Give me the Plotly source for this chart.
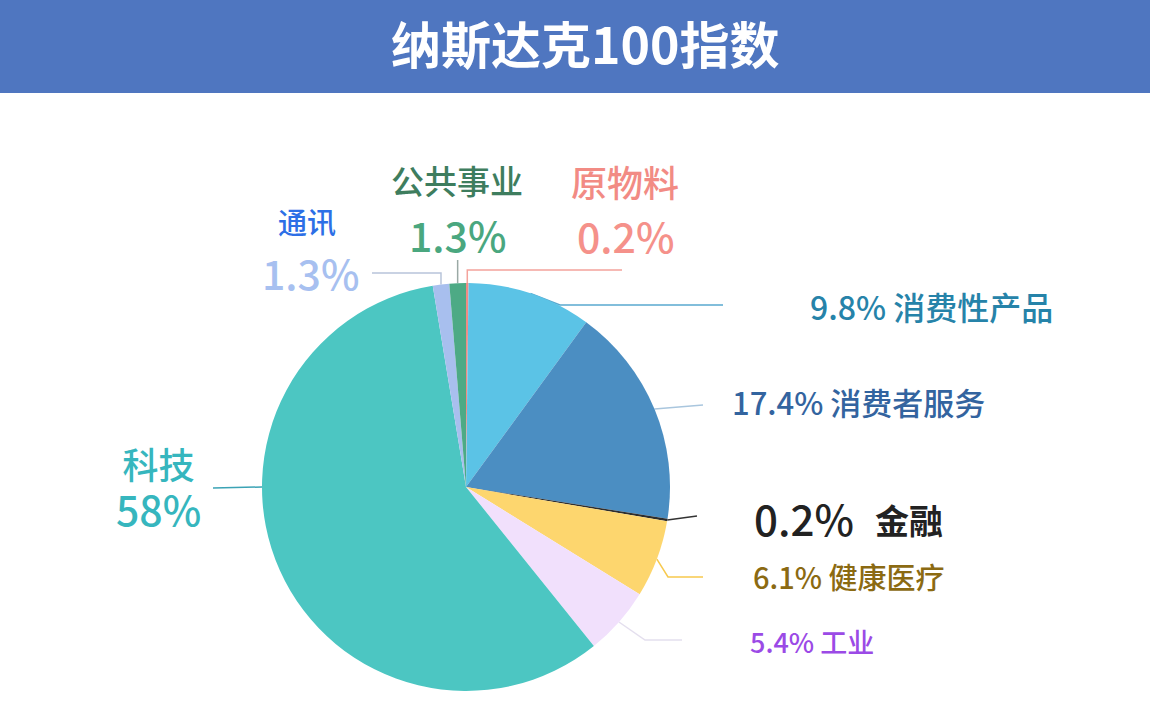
import numpy as np
import plotly.graph_objects as go

# Sector weights of the Nasdaq-100 index (clockwise from 12 o'clock)
sectors = ["原物料", "消费性产品", "消费者服务", "金融", "健康医疗", "工业", "科技", "通讯", "公共事业"]
weights = [0.2, 9.8, 17.4, 0.2, 6.1, 5.4, 58, 1.3, 1.3]
slice_colors = ["#F28B84", "#5BC3E6", "#4B8EC2", "#2E2E2E", "#FDD66E",
                "#F1E0FC", "#4CC6C2", "#A8BFEE", "#4DAA85"]

title = "纳斯达克100指数"

W, H = 1150, 717
CX, CY, R = 466, 487, 204   # pie centre / radius in pixels
FONT = "Noto Sans CJK SC"

# label layout: where text sits and how the leader line bends
label_cfg = {
    "原物料":   dict(kind="top", name_xy=(625, 181), pct_xy=(625, 235), name_size=36, name_col="#F28B84",
                  pct_col="#F5918A", line=[("s", 270), (622, 270)], line_col="#F4A39C"),
    "公共事业": dict(kind="top", name_xy=(457, 180), pct_xy=(457, 234), name_size=33, name_col="#3E7D5E",
                  pct_col="#4AA77F", line=[("s", 260)], line_col="#9AA9A5"),
    "通讯":     dict(kind="top", name_xy=(307, 221), pct_xy=(310, 272), name_size=29, name_col="#2D6FE6",
                  pct_col="#A7C0F0", line=[("s", 273), (372, 273)], line_col="#B8C4DA"),
    "科技":     dict(kind="stack", xy=(158, 487), name_size=36, col="#36B6BE",
                  angle=270, line=[(213, 488)], line_col="#3BA3B5"),
    "消费性产品": dict(kind="side", xy=(808, 306), size=32, col="#2683A9",
                    line=[(560, 305), (723, 305)], line_col="#5AA9CF"),
    "消费者服务": dict(kind="side", xy=(730, 401), size=31, col="#33649F",
                    line=[(703, 405)], line_col="#A9C6DE"),
    "金融":     dict(kind="fin", xy=(752, 517), size=42, col="#222222",
                  line=[(697, 516)], line_col="#333333"),
    "健康医疗": dict(kind="side", xy=(751, 576), size=29, col="#8B6A12",
                  line=[(668, 577), (703, 577)], line_col="#F7C94E"),
    "工业":     dict(kind="side", xy=(748, 641), size=27, col="#9B4AE6",
                  line=[(645, 640), (682, 640)], line_col="#E4DFEE"),
}

total = sum(weights)
cum = np.cumsum([0] + weights[:-1])
mid_angles = 360 * (cum + np.array(weights) / 2) / total

fig = go.Figure()

# leader lines (drawn under the pie)
for name, ang in zip(sectors, mid_angles):
    cfg = label_cfg[name]
    a = np.radians(cfg.get("angle", ang))
    sx, sy = CX + R * np.sin(a), CY - R * np.cos(a)
    xs, ys = [sx], [sy]
    for px, py in cfg["line"]:
        xs.append(sx if px == "s" else px)
        ys.append(py)
    fig.add_trace(go.Scatter(x=xs, y=ys, mode="lines", hoverinfo="skip",
                             line=dict(color=cfg["line_col"], width=1.5), showlegend=False))

fig.add_trace(go.Pie(
    labels=sectors, values=weights, sort=False, direction="clockwise", rotation=0,
    marker=dict(colors=slice_colors, line=dict(width=0)),
    textinfo="none", showlegend=False,
    domain=dict(x=[(CX - R) / W, (CX + R) / W], y=[(H - CY - R) / H, (H - CY + R) / H]),
))

annotations = [dict(x=W / 2 + 10, y=42, text=title,
                    font=dict(family=FONT, size=50, color="white", weight="bold"))]

for name, w in zip(sectors, weights):
    cfg = label_cfg[name]
    pct = f"{w:g}%"
    if cfg["kind"] == "top":
        annotations.append(dict(x=cfg["name_xy"][0], y=cfg["name_xy"][1], text=name,
                                font=dict(family=FONT, size=cfg["name_size"], color=cfg["name_col"], weight=500)))
        annotations.append(dict(x=cfg["pct_xy"][0], y=cfg["pct_xy"][1], text=pct,
                                font=dict(family=FONT, size=41, color=cfg["pct_col"], weight=500)))
    elif cfg["kind"] == "stack":
        annotations.append(dict(x=cfg["xy"][0], y=cfg["xy"][1],
                                text=f"{name}<br><span style='font-size:41px'>{pct}</span>",
                                font=dict(family=FONT, size=cfg["name_size"], color=cfg["col"], weight=500)))
    elif cfg["kind"] == "fin":
        annotations.append(dict(x=cfg["xy"][0], y=cfg["xy"][1], text=pct, xanchor="left",
                                font=dict(family=FONT, size=cfg["size"], color=cfg["col"], weight=500)))
        annotations.append(dict(x=cfg["xy"][0] + 121, y=cfg["xy"][1] + 2, text=name, xanchor="left",
                                font=dict(family=FONT, size=34, color=cfg["col"], weight="bold")))
    else:
        annotations.append(dict(x=cfg["xy"][0], y=cfg["xy"][1], text=f"{pct} {name}", xanchor="left",
                                font=dict(family=FONT, size=cfg["size"], color=cfg["col"], weight=500)))

for a in annotations:
    a.setdefault("xref", "x")
    a.setdefault("yref", "y")
    a.setdefault("showarrow", False)

fig.update_layout(
    width=W, height=H,
    margin=dict(l=0, r=0, t=0, b=0),
    paper_bgcolor="white", plot_bgcolor="rgba(0,0,0,0)",
    xaxis=dict(range=[0, W], visible=False, fixedrange=True),
    yaxis=dict(range=[H, 0], visible=False, fixedrange=True),
    shapes=[dict(type="rect", xref="paper", yref="y", x0=0, x1=1, y0=0, y1=93,
                 fillcolor="#4F76C0", line=dict(width=0), layer="below")],
    annotations=annotations,
)

# drop the browser's default body margin so the figure sits at the page corner
fig.write_html("out.html", config={"displayModeBar": False},
               post_script="document.body.style.margin='0';")
